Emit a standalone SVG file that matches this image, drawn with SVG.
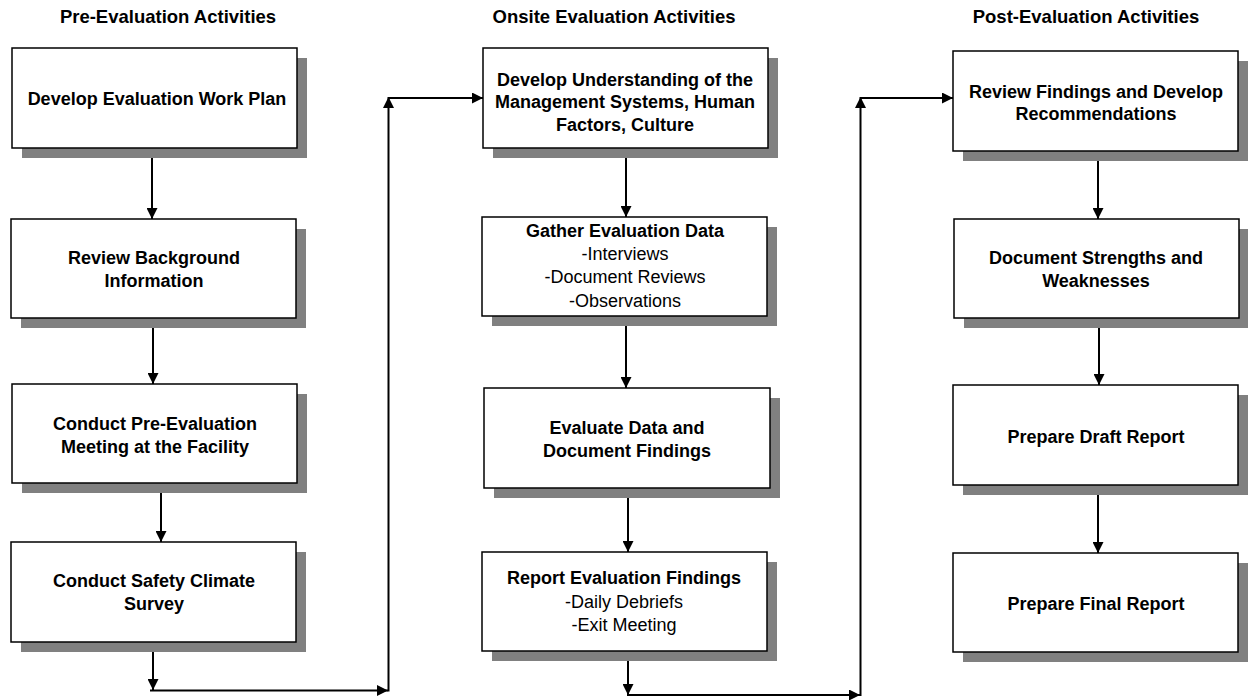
<svg xmlns="http://www.w3.org/2000/svg" width="1248" height="700" viewBox="0 0 1248 700">
<defs>
<style>
.sh{fill:#808080}
.bx{fill:#fff;stroke:#000;stroke-width:1.5}
.t{font-family:"Liberation Sans",Arial,sans-serif;font-size:18px;fill:#000;text-anchor:middle}
.b{font-weight:bold}
.hd{font-family:"Liberation Sans",Arial,sans-serif;font-size:18.5px;font-weight:bold;fill:#000;text-anchor:middle}
.c{fill:none;stroke:#000;stroke-width:2}
</style>
<marker id="ah" markerUnits="userSpaceOnUse" markerWidth="11" markerHeight="11" refX="11" refY="5.5" orient="auto">
<path d="M0,0 L11,5.5 L0,11 z" fill="#000"/>
</marker>
</defs>
<rect width="1248" height="700" fill="#fff"/>
<g id="headers">
<text class="hd" x="168" y="23">Pre-Evaluation Activities</text>
<text class="hd" x="614" y="23">Onsite Evaluation Activities</text>
<text class="hd" x="1086" y="23">Post-Evaluation Activities</text>
</g>
<g id="n1"><rect class="sh" x="22" y="58" width="285" height="100"/><rect class="bx" x="12" y="48" width="285" height="100"/>
<text class="t b" x="157" y="105">Develop Evaluation Work Plan</text></g>
<g id="n2"><rect class="sh" x="21" y="229" width="285" height="99"/><rect class="bx" x="11" y="219" width="285" height="99"/>
<text class="t b" x="154" y="263.5">Review Background</text><text class="t b" x="154" y="286.5">Information</text></g>
<g id="n3"><rect class="sh" x="22" y="394" width="285" height="99"/><rect class="bx" x="12" y="384" width="285" height="99"/>
<text class="t b" x="155" y="429.5">Conduct Pre-Evaluation</text><text class="t b" x="155" y="453">Meeting at the Facility</text></g>
<g id="n4"><rect class="sh" x="21" y="552" width="285" height="100"/><rect class="bx" x="11" y="542" width="285" height="100"/>
<text class="t b" x="154" y="586.5">Conduct Safety Climate</text><text class="t b" x="154" y="609.5">Survey</text></g>
<g id="n5"><rect class="sh" x="493" y="58" width="285" height="100"/><rect class="bx" x="483" y="48" width="285" height="100"/>
<text class="t b" x="625" y="85.5">Develop Understanding of the</text><text class="t b" x="625" y="108">Management Systems, Human</text><text class="t b" x="625" y="130.5">Factors, Culture</text></g>
<g id="n6"><rect class="sh" x="492" y="227" width="285" height="99"/><rect class="bx" x="482" y="217" width="285" height="99"/>
<text class="t b" x="625" y="236.5">Gather Evaluation Data</text><text class="t" x="625" y="259.5">-Interviews</text><text class="t" x="625" y="283">-Document Reviews</text><text class="t" x="625" y="306.5">-Observations</text></g>
<g id="n7"><rect class="sh" x="494" y="398" width="286" height="100"/><rect class="bx" x="484" y="388" width="286" height="100"/>
<text class="t b" x="627" y="433.5">Evaluate Data and</text><text class="t b" x="627" y="456.5">Document Findings</text></g>
<g id="n8"><rect class="sh" x="492" y="562" width="285" height="99"/><rect class="bx" x="482" y="552" width="285" height="99"/>
<text class="t b" x="624" y="584">Report Evaluation Findings</text><text class="t" x="624" y="607.5">-Daily Debriefs</text><text class="t" x="624" y="631">-Exit Meeting</text></g>
<g id="n9"><rect class="sh" x="963" y="61" width="285" height="100"/><rect class="bx" x="953" y="51" width="285" height="100"/>
<text class="t b" x="1096" y="98">Review Findings and Develop</text><text class="t b" x="1096" y="120">Recommendations</text></g>
<g id="n10"><rect class="sh" x="964" y="229" width="285" height="99"/><rect class="bx" x="954" y="219" width="285" height="99"/>
<text class="t b" x="1096" y="263.5">Document Strengths and</text><text class="t b" x="1096" y="286.5">Weaknesses</text></g>
<g id="n11"><rect class="sh" x="963" y="395" width="285" height="100"/><rect class="bx" x="953" y="385" width="285" height="100"/>
<text class="t b" x="1096" y="442.5">Prepare Draft Report</text></g>
<g id="n12"><rect class="sh" x="963" y="563" width="285" height="99"/><rect class="bx" x="953" y="553" width="285" height="99"/>
<text class="t b" x="1096" y="609.5">Prepare Final Report</text></g>
<g id="connectors">
<path class="c" d="M152,158 V219" marker-end="url(#ah)"/>
<path class="c" d="M153,328 V384" marker-end="url(#ah)"/>
<path class="c" d="M161,493 V542" marker-end="url(#ah)"/>
<path class="c" d="M153,652 V690" marker-end="url(#ah)"/>
<path class="c" d="M150,690.5 H388" marker-end="url(#ah)"/>
<path class="c" d="M388.5,691.5 V97" marker-end="url(#ah)"/>
<path class="c" d="M388,98 H483" marker-end="url(#ah)"/>
<path class="c" d="M626,158 V217" marker-end="url(#ah)"/>
<path class="c" d="M626,326 V388" marker-end="url(#ah)"/>
<path class="c" d="M628,498 V552" marker-end="url(#ah)"/>
<path class="c" d="M628,661 V695" marker-end="url(#ah)"/>
<path class="c" d="M627,695 H860" marker-end="url(#ah)"/>
<path class="c" d="M860.5,696 V97" marker-end="url(#ah)"/>
<path class="c" d="M860,98 H953" marker-end="url(#ah)"/>
<path class="c" d="M1098,161 V219" marker-end="url(#ah)"/>
<path class="c" d="M1099,328 V385" marker-end="url(#ah)"/>
<path class="c" d="M1098,495 V553" marker-end="url(#ah)"/>
</g>
</svg>
